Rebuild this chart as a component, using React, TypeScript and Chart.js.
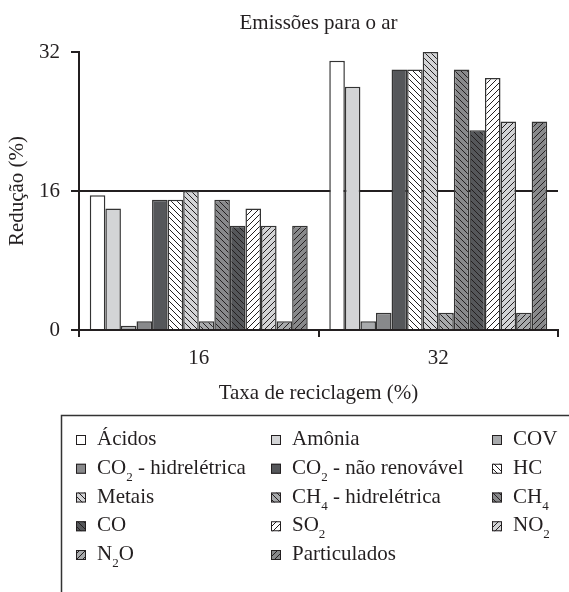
import React, { useEffect, useRef } from 'react';
import { Chart, registerables } from 'chart.js';

Chart.register(...registerables);

// ---------- data ----------
const categories = ['16', '32'];
const seriesNames = [
  'Ácidos',
  'Amônia',
  'COV',
  'CO₂ - hidrelétrica',
  'CO₂ - não renovável',
  'HC',
  'Metais',
  'CH₄ - hidrelétrica',
  'CH₄',
  'CO',
  'SO₂',
  'NO₂',
  'N₂O',
  'Particulados',
];
const reductionAt16 = [15.5, 14, 0.5, 1, 15, 15, 16, 1, 15, 12, 14, 12, 1, 12];
const reductionAt32 = [31, 28, 1, 2, 30, 30, 32, 2, 30, 23, 29, 24, 2, 24];
const yTickValues = [0, 16, 32];
const chartTitle = 'Emissões para o ar';
const xAxisTitle = 'Taxa de reciclagem (%)';
const yAxisTitle = 'Redução (%)';

// ---------- styles ----------
const INK = '#231f20';
const FONT_FAMILY = "'Liberation Serif', 'Times New Roman', serif";
const fillColors = [
  '#ffffff', '#d3d4d6', '#a8aaac', '#88898b', '#55575a',
  '#ffffff', '#d3d4d6', '#a8aaac', '#88898b', '#55575a',
  '#ffffff', '#d3d4d6', '#a8aaac', '#88898b',
];
const hatchKinds = [
  'none', 'none', 'none', 'none', 'none',
  'back', 'back', 'back', 'back', 'back',
  'fwd', 'fwd', 'fwd', 'fwd',
];

function makeFill(bg: string, kind: string): string | CanvasPattern {
  if (kind === 'none') return bg;
  const s = 6;
  const c = document.createElement('canvas');
  c.width = s;
  c.height = s;
  const g = c.getContext('2d')!;
  g.fillStyle = bg;
  g.fillRect(0, 0, s, s);
  g.strokeStyle = INK;
  g.lineWidth = 1;
  g.beginPath();
  if (kind === 'back') {
    g.moveTo(0, 0); g.lineTo(s, s);
    g.moveTo(-1, s - 1); g.lineTo(1, s + 1);
    g.moveTo(s - 1, -1); g.lineTo(s + 1, 1);
  } else {
    g.moveTo(0, s); g.lineTo(s, 0);
    g.moveTo(-1, 1); g.lineTo(1, -1);
    g.moveTo(s - 1, s + 1); g.lineTo(s + 1, s - 1);
  }
  g.stroke();
  const p = g.createPattern(c, 'repeat');
  return p || bg;
}

const SUBS: Record<string, string> = { '₂': '2', '₄': '4' };

function drawRichLabel(ctx: CanvasRenderingContext2D, text: string, x: number, baseline: number) {
  let cx = x;
  let buf = '';
  const mainFont = `21px ${FONT_FAMILY}`;
  const subFont = `13px ${FONT_FAMILY}`;
  const flush = () => {
    if (!buf) return;
    ctx.font = mainFont;
    ctx.fillText(buf, cx, baseline);
    cx += ctx.measureText(buf).width;
    buf = '';
  };
  for (const ch of text) {
    if (SUBS[ch]) {
      flush();
      ctx.font = subFont;
      ctx.fillText(SUBS[ch], cx, baseline + 7);
      cx += ctx.measureText(SUBS[ch]).width;
    } else {
      buf += ch;
    }
  }
  flush();
}

const legendPlugin = {
  id: 'gridLegend',
  afterDraw(chart: any) {
    const ctx: CanvasRenderingContext2D = chart.ctx;
    ctx.save();
    ctx.strokeStyle = '#333333';
    ctx.lineWidth = 1.5;
    ctx.beginPath();
    ctx.moveTo(61.5, 600);
    ctx.lineTo(61.5, 415.5);
    ctx.lineTo(580, 415.5);
    ctx.stroke();
    const swatchX = [76, 271, 492];
    const textX = [97, 292, 513];
    const row0 = 440;
    const rowStep = 28.75;
    ctx.textAlign = 'left';
    ctx.textBaseline = 'alphabetic';
    chart.data.datasets.forEach((ds: any, i: number) => {
      const col = i % 3;
      const row = Math.floor(i / 3);
      const cy = row0 + row * rowStep;
      ctx.fillStyle = ds.backgroundColor;
      ctx.fillRect(swatchX[col], cy - 5, 10, 10);
      ctx.strokeStyle = INK;
      ctx.lineWidth = 1;
      ctx.strokeRect(swatchX[col] + 0.5, cy - 4.5, 9, 9);
      ctx.fillStyle = INK;
      drawRichLabel(ctx, ds.label, textX[col], cy + 5);
    });
    ctx.restore();
  },
};

export default function App() {
  const ref = useRef<HTMLCanvasElement | null>(null);

  useEffect(() => {
    if (!ref.current) return;
    const font = { family: FONT_FAMILY, size: 21, weight: 'normal' as const };
    const datasets = seriesNames.map((name, i) => ({
      label: name,
      data: [reductionAt16[i], reductionAt32[i]],
      backgroundColor: makeFill(fillColors[i], hatchKinds[i]),
      borderColor: '#333333',
      borderWidth: 1.5,
      barPercentage: 1,
      categoryPercentage: 0.91,
    }));
    const chart = new Chart(ref.current, {
      type: 'bar',
      data: { labels: categories, datasets: datasets as any },
      options: {
        responsive: false,
        animation: false,
        layout: { padding: { left: 0, right: 11, top: 0, bottom: 182 } },
        plugins: {
          legend: { display: false },
          tooltip: { enabled: false },
          title: {
            display: true,
            text: chartTitle,
            fullSize: false,
            color: INK,
            font,
            padding: { top: 11, bottom: 15.8 },
          },
        },
        scales: {
          x: {
            offset: true,
            grid: {
              offset: true,
              drawOnChartArea: false,
              drawTicks: true,
              tickLength: 7,
              tickColor: INK,
              lineWidth: 2,
            },
            border: { color: INK, width: 2 },
            ticks: { color: INK, font, padding: 9 },
            title: { display: true, text: xAxisTitle, color: INK, font, padding: { top: 4, bottom: 4 } },
            afterFit: (s: any) => { s.height = 80; },
          },
          y: {
            min: 0,
            max: 32,
            afterBuildTicks: (s: any) => { s.ticks = yTickValues.map((v) => ({ value: v })); },
            ticks: { color: INK, font, padding: 11 },
            grid: {
              color: (c: any) => (c.tick && c.tick.value === 16 ? INK : 'rgba(0,0,0,0)'),
              tickColor: INK,
              tickLength: 8,
              lineWidth: 2,
            },
            border: { color: INK, width: 2 },
            title: { display: true, text: yAxisTitle, color: INK, font, padding: { top: 5, bottom: 4 } },
            afterFit: (s: any) => { s.width = 79; },
          },
        },
      },
      plugins: [legendPlugin],
    });
    return () => chart.destroy();
  }, []);

  return (
    <div style={{ position: 'absolute', left: 0, top: 0, width: 569, height: 592, background: '#fff' }}>
      <canvas ref={ref} width={569} height={592} style={{ display: 'block' }} />
    </div>
  );
}
